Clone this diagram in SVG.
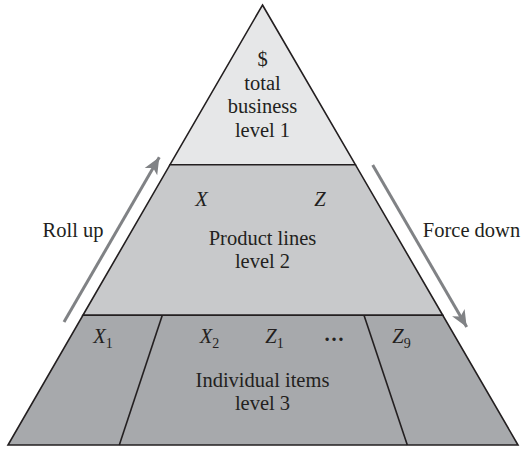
<svg xmlns="http://www.w3.org/2000/svg" width="525" height="450" viewBox="0 0 525 450">
<defs>
<style>
.t{font-family:"Liberation Serif","Times New Roman",serif;font-size:20.5px;fill:#231f20;text-anchor:middle}
.i{font-style:italic}
.s{font-size:14px;font-style:normal}
.edge{stroke:#231f20;stroke-width:1.6;stroke-linejoin:miter}
.arr{stroke:#808285;stroke-width:3;fill:none}
</style>
<marker id="ah" markerUnits="userSpaceOnUse" markerWidth="20" markerHeight="20" viewBox="-16 -8 18 16" refX="0" refY="0" orient="auto">
<path d="M0,0 L-15,-6.5 L-11,0 L-15,6.5 Z" fill="#808285"/>
</marker>
</defs>
<rect width="525" height="450" fill="#ffffff"/>
<g id="level1">
<polygon points="262.5,5 355.4,164.7 170,164.7" fill="#e6e7e8" class="edge"/>
<text class="t" x="262.5" y="66">$</text>
<text class="t" x="262.5" y="90">total</text>
<text class="t" x="262.5" y="113">business</text>
<text class="t" x="262.5" y="137">level 1</text>
</g>
<g id="level2">
<polygon points="170,164.7 355.4,164.7 442.8,315.3 82.9,315.3" fill="#c8c9cb" class="edge"/>
<text class="t i" x="201.5" y="206">X</text>
<text class="t i" x="320" y="206">Z</text>
<text class="t" x="262.5" y="245">Product lines</text>
<text class="t" x="262.5" y="268">level 2</text>
</g>
<g id="level3">
<polygon points="82.9,315.3 442.8,315.3 518,445 8,445" fill="#a7a9ac" class="edge"/>
<line x1="162.3" y1="315.3" x2="119.3" y2="445" class="edge"/>
<line x1="364" y1="315.3" x2="407.3" y2="445" class="edge"/>
<text class="t i" x="103" y="343" text-anchor="start">X<tspan class="s" dy="5">1</tspan></text>
<text class="t i" x="209.5" y="343" text-anchor="start">X<tspan class="s" dy="5">2</tspan></text>
<text class="t i" x="274.5" y="343" text-anchor="start">Z<tspan class="s" dy="5">1</tspan></text>
<text class="t" x="334" y="341" font-weight="bold">…</text>
<text class="t i" x="401.5" y="343" text-anchor="start">Z<tspan class="s" dy="5">9</tspan></text>
<text class="t" x="262.5" y="387">Individual items</text>
<text class="t" x="262.5" y="410">level 3</text>
</g>
<g id="connectors">
<line x1="64" y1="322" x2="159.3" y2="157.3" class="arr" marker-end="url(#ah)"/>
<line x1="372.7" y1="165" x2="466.7" y2="327" class="arr" marker-end="url(#ah)"/>
</g>
<g id="labels">
<text class="t" x="73" y="237">Roll up</text>
<text class="t" x="471.5" y="237">Force down</text>
</g>
</svg>
